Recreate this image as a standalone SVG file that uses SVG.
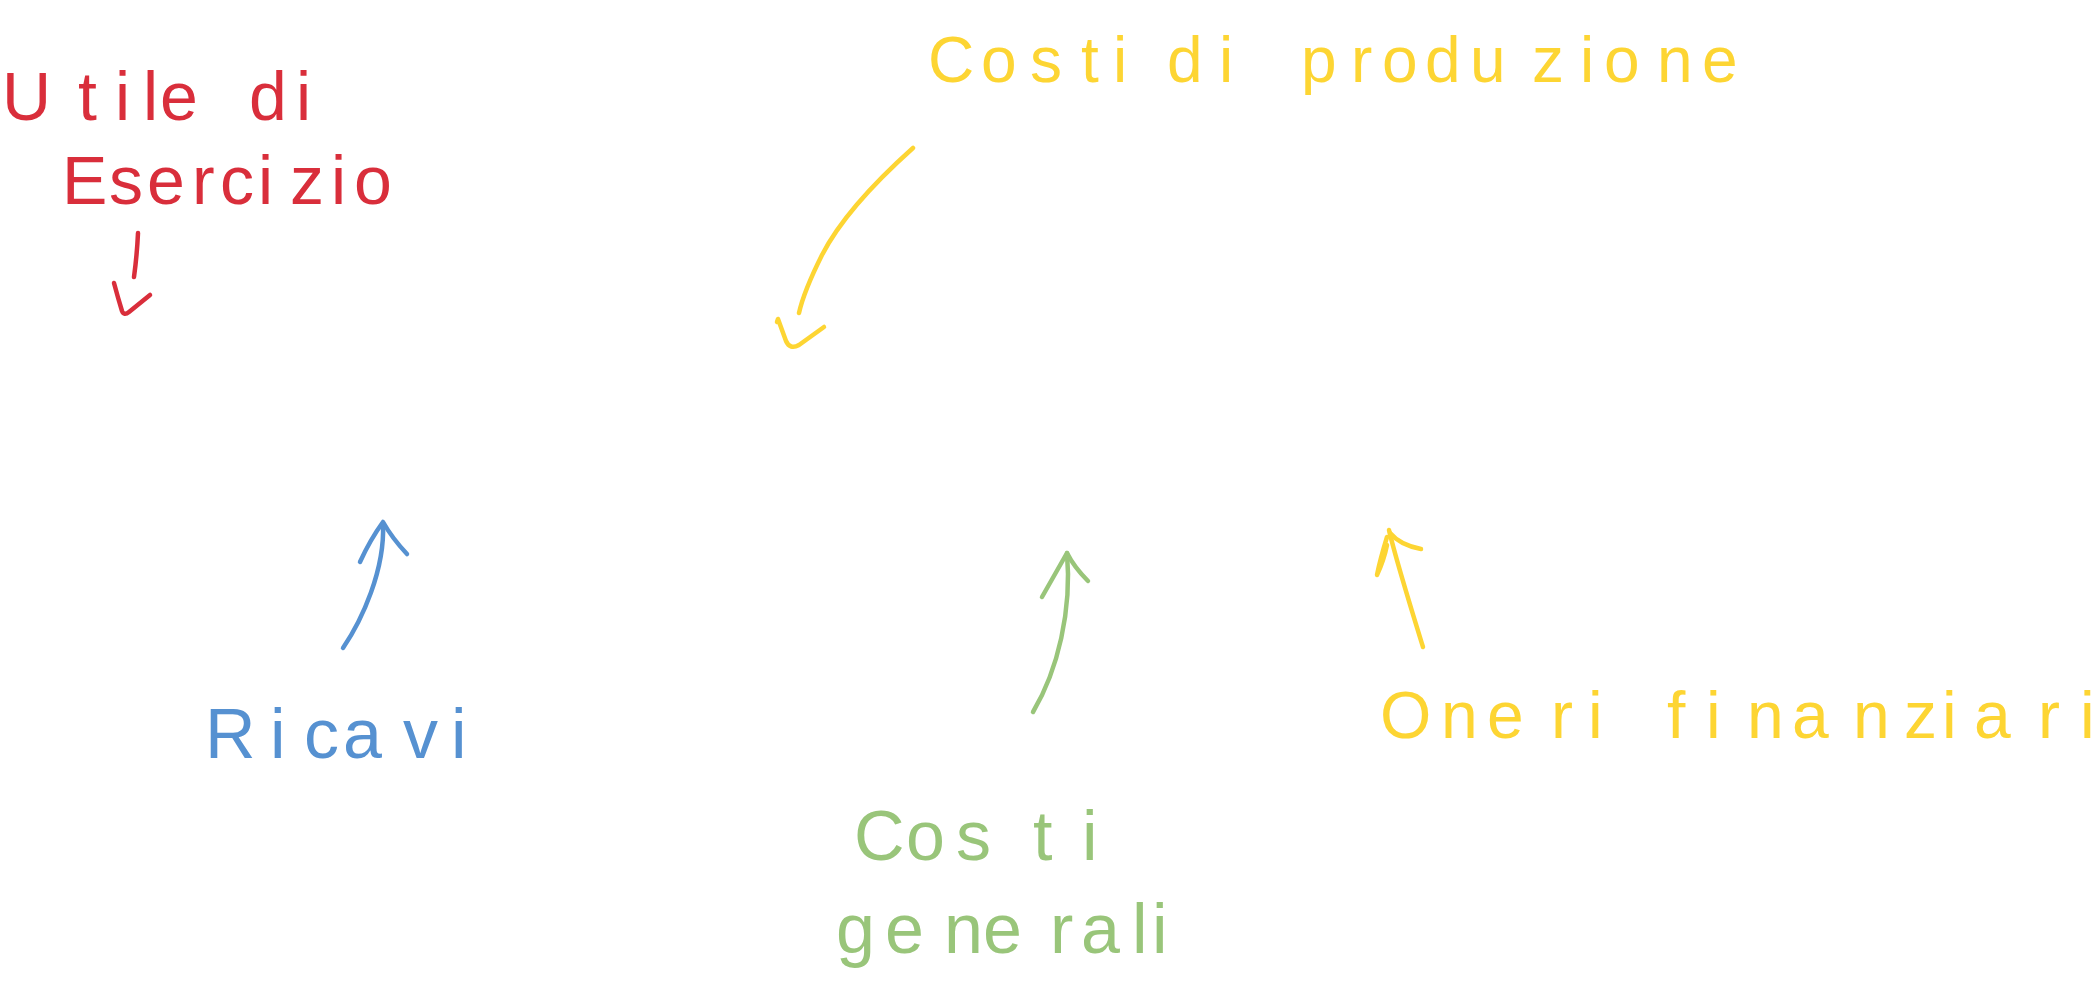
<svg xmlns="http://www.w3.org/2000/svg" width="2094" height="1000" viewBox="0 0 2094 1000">
<style>
  text { font-family: "Liberation Sans", Arial, sans-serif; }
  .red { fill: #d92e3b; }
  .yel { fill: #fdd533; }
  .blu { fill: #5691d1; }
  .grn { fill: #99c57a; }
  .ln { fill: none; stroke-width: 4.5; stroke-linecap: round; stroke-linejoin: round; }
  .sred { stroke: #d92e3b; }
  .syel { stroke: #fdd533; }
  .sblu { stroke: #5691d1; }
  .sgrn { stroke: #99c57a; }
</style>
<rect width="2094" height="1000" fill="#ffffff"/>

<g id="node-utile">
  <text class="red" font-size="68">
    <tspan x="2 78 115 143 160 200 249 296" y="120">Utile di</tspan>
    <tspan x="62 109 147 192 220 258 290 331 354" y="204">Esercizio</tspan>
  </text>
</g>

<g id="node-costi-produzione">
  <text class="yel" font-size="64" x="928 981 1030 1081 1113 1140 1167 1219 1250 1301 1351 1382 1425 1470 1532 1580 1604 1657 1702" y="82">Costi di produzione</text>
</g>

<g id="node-ricavi">
  <text class="blu" font-size="70" x="205 270 304 343 403 451" y="758">Ricavi</text>
</g>

<g id="node-costi-generali">
  <text class="grn" font-size="70">
    <tspan x="854 906 956 1033 1082" y="860">Costi</tspan>
    <tspan x="836 885 944 983 1050 1081 1132 1152" y="953">generali</tspan>
  </text>
</g>

<g id="node-oneri">
  <text class="yel" font-size="66" x="1380 1441 1487 1551 1588 1620 1667 1706 1747 1792 1853 1904 1942 1974 2038 2080" y="738">Oneri finanziari</text>
</g>

<g id="connectors">
  <!-- Utile di Esercizio downward arrow -->
  <path class="ln sred" d="M138,233 Q137,255 134,277"/>
  <path class="ln sred" d="M114,283 Q118,298 122,311 Q124,316 129,312 L150,295"/>
  <!-- Costi di produzione arrow -->
  <path class="ln syel" d="M913,148 C875,182 840,220 822,255 C812,275 803,295 799,313"/>
  <path class="ln syel" d="M777,322 L778,319 L786,341 Q790,350 799,345 L824,327"/>
  <!-- Ricavi arrow -->
  <path class="ln sblu" d="M343,648 C362,620 385,570 383,524"/>
  <path class="ln sblu" d="M360,562 Q370,540 383,522 Q392,538 407,554"/>
  <!-- Costi generali arrow -->
  <path class="ln sgrn" d="M1033,712 C1058,670 1072,610 1067,553"/>
  <path class="ln sgrn" d="M1042,597 L1067,553 Q1074,567 1088,581"/>
  <!-- Oneri finanziari arrow -->
  <path class="ln syel" d="M1423,647 C1410,605 1396,560 1389,530"/>
  <path class="ln syel" d="M1387,537 Q1380,560 1377,575 Q1384,560 1387,545"/>
  <path class="ln syel" d="M1390,533 Q1400,545 1421,549"/>
</g>
</svg>
